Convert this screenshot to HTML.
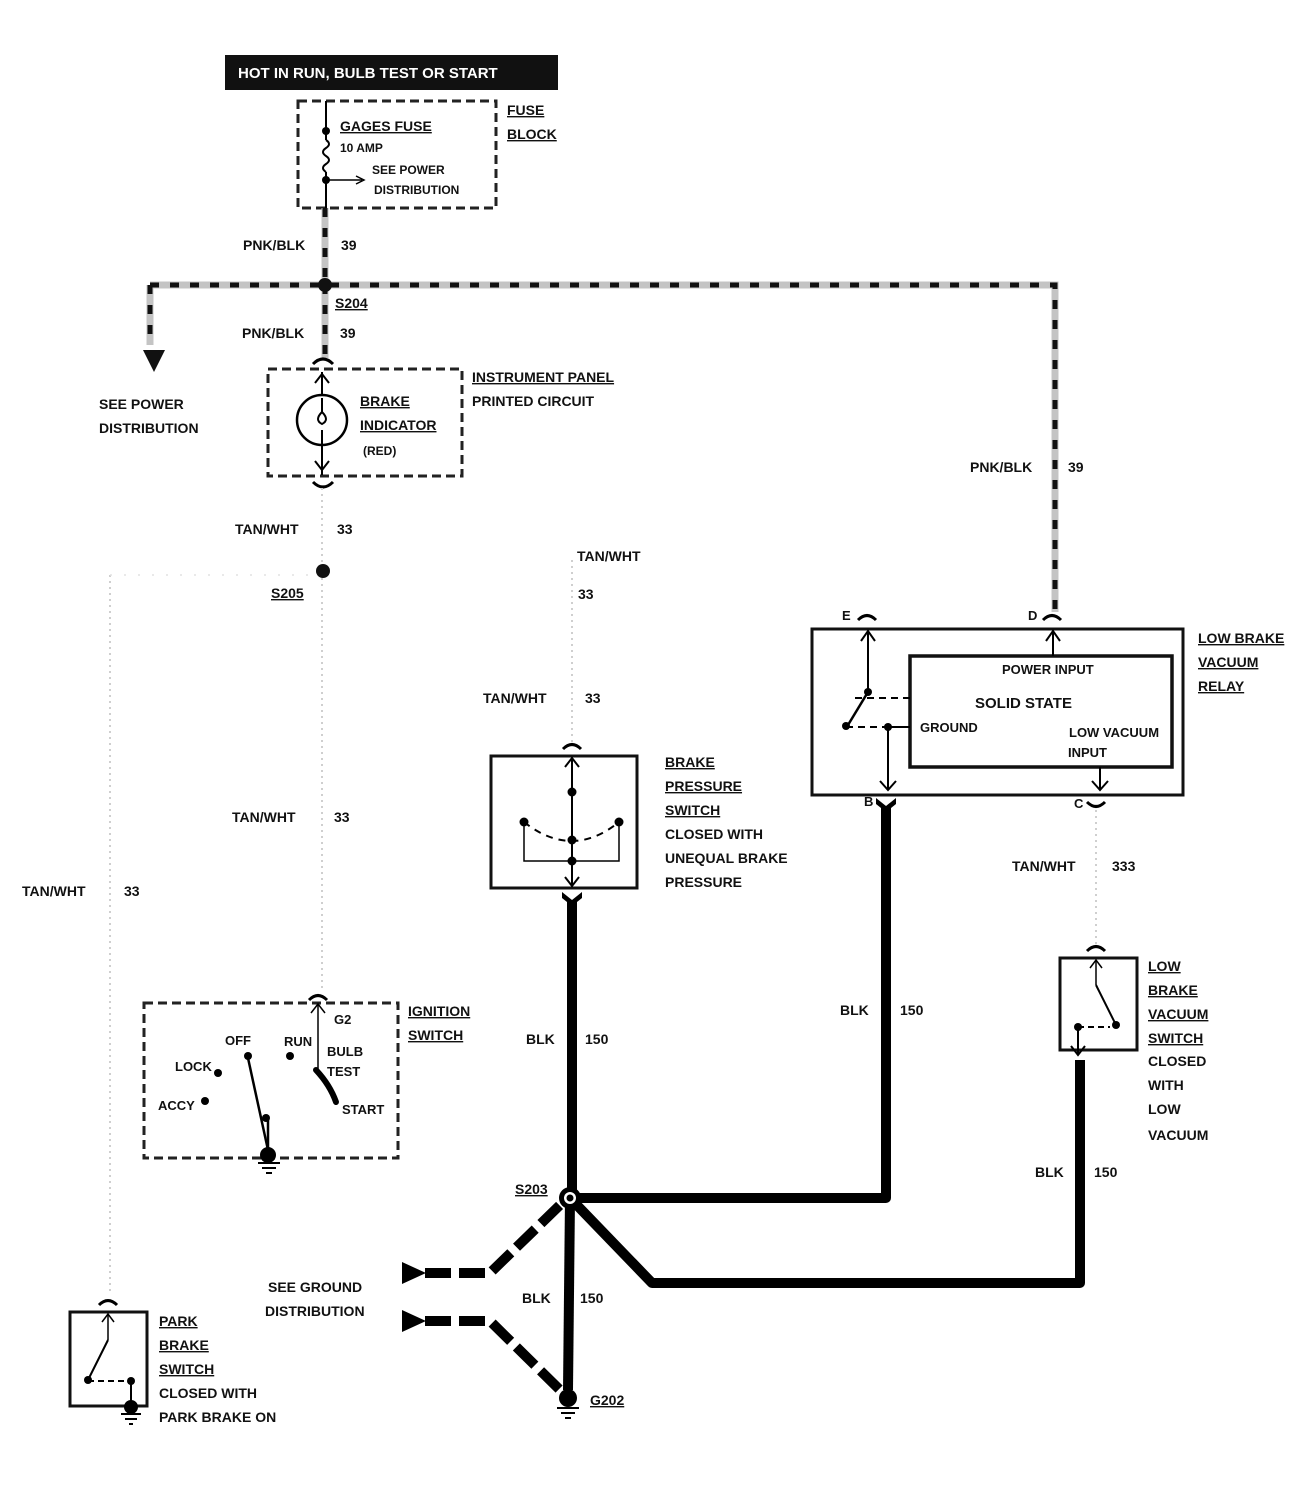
<!DOCTYPE html>
<html><head><meta charset="utf-8"><style>
html,body{margin:0;padding:0;background:#fff}
svg{display:block}
text{font-family:"Liberation Sans",sans-serif;font-weight:bold;font-size:14px;fill:#111}
</style></head><body>
<svg width="1308" height="1504" viewBox="0 0 1308 1504" xmlns="http://www.w3.org/2000/svg">
<!-- banner -->
<rect x="225" y="55" width="333" height="35" fill="#111"/>
<text x="238" y="78" style="fill:#fff;font-size:15px">HOT IN RUN,   BULB TEST OR START</text>

<!-- fuse block -->
<rect x="298" y="101" width="198" height="107" fill="none" stroke="#222" stroke-width="3" stroke-dasharray="9,5"/>
<line x1="326" y1="101" x2="326" y2="140" stroke="#000" stroke-width="2"/>
<circle cx="326" cy="131" r="4"/>
<path d="M326,140 q6,4 0,8 q-6,4 0,8 q6,4 0,8 q-6,4 0,8" fill="none" stroke="#000" stroke-width="2"/>
<line x1="326" y1="172" x2="326" y2="208" stroke="#000" stroke-width="2"/>
<circle cx="326" cy="180" r="4"/>
<line x1="326" y1="180" x2="362" y2="180" stroke="#000" stroke-width="1.5"/>
<path d="M356,176 L364,180 L356,184" fill="none" stroke="#000" stroke-width="1.5"/>
<text x="340" y="131" text-decoration="underline">GAGES FUSE</text>
<text x="340" y="152" style="font-size:12px">10 AMP</text>
<text x="372" y="174" style="font-size:12px">SEE POWER</text>
<text x="374" y="194" style="font-size:12px">DISTRIBUTION</text>
<text x="507" y="115" text-decoration="underline">FUSE</text>
<text x="507" y="139" text-decoration="underline">BLOCK</text>

<!-- PNK/BLK hatched wires -->
<g stroke="#c4c4c4" stroke-width="7" fill="none">
<path d="M325,208 L325,285"/>
<path d="M150,285 L1055,285 L1055,612"/>
<path d="M150,285 L150,345"/>
<path d="M325,285 L325,358"/>
</g>
<g stroke="#111" stroke-width="5" stroke-dasharray="9,11" fill="none">
<path d="M325,208 L325,285"/>
<path d="M150,285 L1055,285 L1055,612"/>
<path d="M150,285 L150,345"/>
<path d="M325,285 L325,358"/>
</g>
<path d="M143,350 L165,350 L154,372 Z" fill="#111"/>
<circle cx="325" cy="285" r="7" fill="#111"/>
<text x="243" y="250">PNK/BLK</text><text x="341" y="250">39</text>
<text x="335" y="308" text-decoration="underline">S204</text>
<text x="242" y="338">PNK/BLK</text><text x="340" y="338">39</text>
<text x="99" y="409">SEE POWER</text>
<text x="99" y="433">DISTRIBUTION</text>
<text x="970" y="472">PNK/BLK</text><text x="1068" y="472">39</text>

<!-- brake indicator -->
<rect x="268" y="369" width="194" height="107" fill="none" stroke="#222" stroke-width="3" stroke-dasharray="9,5"/>
<path d="M313,364 q10,-10 20,0" fill="none" stroke="#000" stroke-width="3"/>
<path d="M313,482 q10,10 20,0" fill="none" stroke="#000" stroke-width="3"/>
<line x1="322" y1="372" x2="322" y2="475" stroke="#000" stroke-width="2"/>
<path d="M315,383 L322,374 L329,383" fill="none" stroke="#000" stroke-width="2"/>
<path d="M315,461 L322,470 L329,461" fill="none" stroke="#000" stroke-width="2"/>
<circle cx="322" cy="420" r="25" fill="#fff" stroke="#000" stroke-width="2.5"/>
<path d="M322,398 L322,412 q-8,8 0,12 q8,-4 0,-12" fill="none" stroke="#000" stroke-width="2"/>
<line x1="322" y1="430" x2="322" y2="444" stroke="#000" stroke-width="2"/>
<text x="360" y="406" text-decoration="underline">BRAKE</text>
<text x="360" y="430" text-decoration="underline">INDICATOR</text>
<text x="363" y="455" style="font-size:12px">(RED)</text>
<text x="472" y="382" text-decoration="underline">INSTRUMENT PANEL</text>
<text x="472" y="406">PRINTED CIRCUIT</text>

<!-- TAN/WHT dotted wires -->
<g stroke="#cfcfcf" stroke-width="2" stroke-dasharray="2,4" fill="none">
<path d="M322,488 L322,992"/>
<path d="M110,575 L110,1292"/>
<path d="M572,560 L572,742"/>
<path d="M1096,810 L1096,946"/>
</g>
<path d="M110,575 L322,575" stroke="#e2e2e2" stroke-width="1.5" stroke-dasharray="2,12" fill="none"/>
<circle cx="323" cy="571" r="7" fill="#111"/>
<text x="235" y="534">TAN/WHT</text><text x="337" y="534">33</text>
<text x="271" y="598" text-decoration="underline">S205</text>
<text x="577" y="561">TAN/WHT</text>
<text x="578" y="599">33</text>
<text x="483" y="703">TAN/WHT</text><text x="585" y="703">33</text>
<text x="232" y="822">TAN/WHT</text><text x="334" y="822">33</text>
<text x="22" y="896">TAN/WHT</text><text x="124" y="896">33</text>
<text x="1012" y="871">TAN/WHT</text><text x="1112" y="871">333</text>

<!-- relay -->
<rect x="812" y="629" width="371" height="166" fill="none" stroke="#111" stroke-width="3"/>
<rect x="910" y="656" width="262" height="111" fill="none" stroke="#111" stroke-width="3.5"/>
<path d="M858,620 q9,-9 18,0" fill="none" stroke="#000" stroke-width="3"/>
<path d="M1043,620 q9,-9 18,0" fill="none" stroke="#000" stroke-width="3"/>
<path d="M1087,802 q9,9 18,0" fill="none" stroke="#000" stroke-width="3"/>
<line x1="868" y1="632" x2="868" y2="692" stroke="#000" stroke-width="2"/>
<path d="M861,641 L868,631 L875,641" fill="none" stroke="#000" stroke-width="2"/>
<circle cx="868" cy="692" r="4"/>
<line x1="868" y1="692" x2="848" y2="725" stroke="#000" stroke-width="2.5"/>
<circle cx="846" cy="726" r="4"/>
<line x1="855" y1="698" x2="910" y2="698" stroke="#000" stroke-width="2" stroke-dasharray="7,5"/>
<line x1="846" y1="727" x2="888" y2="727" stroke="#000" stroke-width="2" stroke-dasharray="7,5"/>
<circle cx="888" cy="727" r="4"/>
<line x1="888" y1="727" x2="910" y2="727" stroke="#000" stroke-width="2"/>
<line x1="888" y1="727" x2="888" y2="790" stroke="#000" stroke-width="2"/>
<path d="M880,781 L888,790 L896,781" fill="none" stroke="#000" stroke-width="2"/>
<line x1="1053" y1="632" x2="1053" y2="656" stroke="#000" stroke-width="2"/>
<path d="M1046,641 L1053,631 L1060,641" fill="none" stroke="#000" stroke-width="2"/>
<line x1="1100" y1="767" x2="1100" y2="790" stroke="#000" stroke-width="2"/>
<path d="M1092,781 L1100,790 L1108,781" fill="none" stroke="#000" stroke-width="2"/>
<text x="842" y="620" style="font-size:13px">E</text>
<text x="1028" y="620" style="font-size:13px">D</text>
<text x="864" y="806" style="font-size:13px">B</text>
<text x="1074" y="808" style="font-size:13px">C</text>
<text x="1002" y="674" style="font-size:13px">POWER INPUT</text>
<text x="975" y="708" style="font-size:15px">SOLID STATE</text>
<text x="920" y="732" style="font-size:13px">GROUND</text>
<text x="1069" y="737" style="font-size:13px">LOW VACUUM</text>
<text x="1068" y="757" style="font-size:13px">INPUT</text>
<text x="1198" y="643" text-decoration="underline">LOW BRAKE</text>
<text x="1198" y="667" text-decoration="underline">VACUUM</text>
<text x="1198" y="691" text-decoration="underline">RELAY</text>

<!-- brake pressure switch -->
<rect x="491" y="756" width="146" height="132" fill="none" stroke="#111" stroke-width="3"/>
<path d="M563,749 q9,-9 18,0" fill="none" stroke="#000" stroke-width="3"/>
<line x1="572" y1="758" x2="572" y2="886" stroke="#000" stroke-width="2"/>
<path d="M565,767 L572,758 L579,767" fill="none" stroke="#000" stroke-width="2"/>
<path d="M565,877 L572,886 L579,877" fill="none" stroke="#000" stroke-width="2"/>
<circle cx="572" cy="792" r="4.5"/><circle cx="572" cy="840" r="4.5"/><circle cx="572" cy="861" r="4.5"/>
<circle cx="524" cy="822" r="4.5"/><circle cx="619" cy="822" r="4.5"/>
<path d="M524,822 Q572,860 619,822" fill="none" stroke="#000" stroke-width="2" stroke-dasharray="7,6"/>
<path d="M524,822 L524,861 L619,861 L619,822" fill="none" stroke="#000" stroke-width="1.5"/>
<text x="665" y="767" text-decoration="underline">BRAKE</text>
<text x="665" y="791" text-decoration="underline">PRESSURE</text>
<text x="665" y="815" text-decoration="underline">SWITCH</text>
<text x="665" y="839">CLOSED WITH</text>
<text x="665" y="863">UNEQUAL BRAKE</text>
<text x="665" y="887">PRESSURE</text>

<!-- ignition switch -->
<rect x="144" y="1003" width="254" height="155" fill="none" stroke="#222" stroke-width="3" stroke-dasharray="9,5"/>
<path d="M309,1000 q9,-9 18,0" fill="none" stroke="#000" stroke-width="3"/>
<line x1="318" y1="1004" x2="318" y2="1070" stroke="#000" stroke-width="1.5"/>
<path d="M311,1013 L318,1004 L325,1013" fill="none" stroke="#000" stroke-width="1.5"/>
<path d="M316,1070 Q330,1085 336,1102" fill="none" stroke="#000" stroke-width="6" stroke-linecap="round"/>
<line x1="248" y1="1058" x2="268" y2="1150" stroke="#000" stroke-width="2.5"/>
<circle cx="248" cy="1056" r="4"/><circle cx="266" cy="1118" r="4"/>
<circle cx="290" cy="1056" r="4"/><circle cx="218" cy="1073" r="4"/><circle cx="205" cy="1101" r="4"/>
<line x1="268" y1="1118" x2="268" y2="1150" stroke="#000" stroke-width="2.5"/>
<circle cx="268" cy="1155" r="8"/>
<line x1="258" y1="1163" x2="280" y2="1163" stroke="#000" stroke-width="2"/>
<line x1="262" y1="1168" x2="276" y2="1168" stroke="#000" stroke-width="2"/>
<line x1="266" y1="1173" x2="272" y2="1173" stroke="#000" stroke-width="2"/>
<text x="334" y="1024" style="font-size:13px">G2</text>
<text x="225" y="1045" style="font-size:13px">OFF</text>
<text x="284" y="1046" style="font-size:13px">RUN</text>
<text x="327" y="1056" style="font-size:13px">BULB</text>
<text x="327" y="1076" style="font-size:13px">TEST</text>
<text x="175" y="1071" style="font-size:13px">LOCK</text>
<text x="158" y="1110" style="font-size:13px">ACCY</text>
<text x="342" y="1114" style="font-size:13px">START</text>
<text x="408" y="1016" text-decoration="underline">IGNITION</text>
<text x="408" y="1040" text-decoration="underline">SWITCH</text>

<!-- low brake vacuum switch -->
<rect x="1060" y="958" width="77" height="92" fill="none" stroke="#111" stroke-width="3"/>
<path d="M1087,951 q9,-9 18,0" fill="none" stroke="#000" stroke-width="3"/>
<line x1="1096" y1="960" x2="1096" y2="985" stroke="#000" stroke-width="1.5"/>
<path d="M1090,968 L1096,960 L1102,968" fill="none" stroke="#000" stroke-width="1.5"/>
<line x1="1096" y1="985" x2="1116" y2="1025" stroke="#000" stroke-width="2"/>
<circle cx="1116" cy="1025" r="4"/><circle cx="1078" cy="1027" r="4"/>
<line x1="1078" y1="1027" x2="1110" y2="1027" stroke="#000" stroke-width="2" stroke-dasharray="6,4"/>
<line x1="1078" y1="1027" x2="1078" y2="1055" stroke="#000" stroke-width="2"/>
<path d="M1071,1046 L1078,1055 L1085,1046" fill="none" stroke="#000" stroke-width="2"/>
<text x="1148" y="971" text-decoration="underline">LOW</text>
<text x="1148" y="995" text-decoration="underline">BRAKE</text>
<text x="1148" y="1019" text-decoration="underline">VACUUM</text>
<text x="1148" y="1043" text-decoration="underline">SWITCH</text>
<text x="1148" y="1066">CLOSED</text>
<text x="1148" y="1090">WITH</text>
<text x="1148" y="1114">LOW</text>
<text x="1148" y="1140">VACUUM</text>

<!-- park brake switch -->
<rect x="70" y="1312" width="77" height="94" fill="none" stroke="#111" stroke-width="3"/>
<path d="M99,1305 q9,-9 18,0" fill="none" stroke="#000" stroke-width="3"/>
<line x1="108" y1="1314" x2="108" y2="1340" stroke="#000" stroke-width="1.5"/>
<path d="M102,1322 L108,1314 L114,1322" fill="none" stroke="#000" stroke-width="1.5"/>
<line x1="108" y1="1340" x2="88" y2="1380" stroke="#000" stroke-width="2"/>
<circle cx="88" cy="1380" r="4"/><circle cx="131" cy="1381" r="4"/>
<line x1="88" y1="1381" x2="131" y2="1381" stroke="#000" stroke-width="2" stroke-dasharray="6,4"/>
<line x1="131" y1="1381" x2="131" y2="1404" stroke="#000" stroke-width="2"/>
<circle cx="131" cy="1407" r="7"/>
<line x1="121" y1="1414" x2="141" y2="1414" stroke="#000" stroke-width="2"/>
<line x1="125" y1="1419" x2="137" y2="1419" stroke="#000" stroke-width="2"/>
<line x1="129" y1="1424" x2="133" y2="1424" stroke="#000" stroke-width="2"/>
<text x="159" y="1326" text-decoration="underline">PARK</text>
<text x="159" y="1350" text-decoration="underline">BRAKE</text>
<text x="159" y="1374" text-decoration="underline">SWITCH</text>
<text x="159" y="1398">CLOSED WITH</text>
<text x="159" y="1422">PARK BRAKE ON</text>

<!-- BLK thick wires -->
<g stroke="#000" stroke-width="10" fill="none" stroke-linejoin="round">
<path d="M572,900 L572,1198"/>
<path d="M570,1198 L886,1198 L886,806"/>
<path d="M570,1198 L652,1283 L1080,1283 L1080,1060"/>
<path d="M570,1198 L568,1390"/>
</g>
<path d="M562,898 L572,906 L582,898 L582,892 L572,900 L562,892Z" fill="#000"/>
<path d="M876,804 L886,812 L896,804 L896,798 L886,806 L876,798Z" fill="#000"/>
<g stroke="#000" stroke-width="10" fill="none" stroke-dasharray="26,8">
<path d="M425,1273 L490,1273 L560,1205"/>
<path d="M425,1321 L490,1321 L560,1390"/>
</g>
<path d="M402,1262 L426,1273 L402,1284Z" fill="#000"/>
<path d="M402,1310 L426,1321 L402,1332Z" fill="#000"/>
<circle cx="570" cy="1198" r="11" fill="#000"/><circle cx="570" cy="1198" r="6" fill="#fff"/><circle cx="570" cy="1198" r="3.5" fill="#000"/>
<circle cx="568" cy="1398" r="9" fill="#000"/>
<line x1="557" y1="1408" x2="579" y2="1408" stroke="#000" stroke-width="2"/>
<line x1="561" y1="1413" x2="575" y2="1413" stroke="#000" stroke-width="2"/>
<line x1="565" y1="1418" x2="571" y2="1418" stroke="#000" stroke-width="2"/>
<text x="526" y="1044">BLK</text><text x="585" y="1044">150</text>
<text x="840" y="1015">BLK</text><text x="900" y="1015">150</text>
<text x="1035" y="1177">BLK</text><text x="1094" y="1177">150</text>
<text x="522" y="1303">BLK</text><text x="580" y="1303">150</text>
<text x="515" y="1194" text-decoration="underline">S203</text>
<text x="590" y="1405" text-decoration="underline">G202</text>
<text x="268" y="1292">SEE GROUND</text>
<text x="265" y="1316">DISTRIBUTION</text>
</svg>
</body></html>
